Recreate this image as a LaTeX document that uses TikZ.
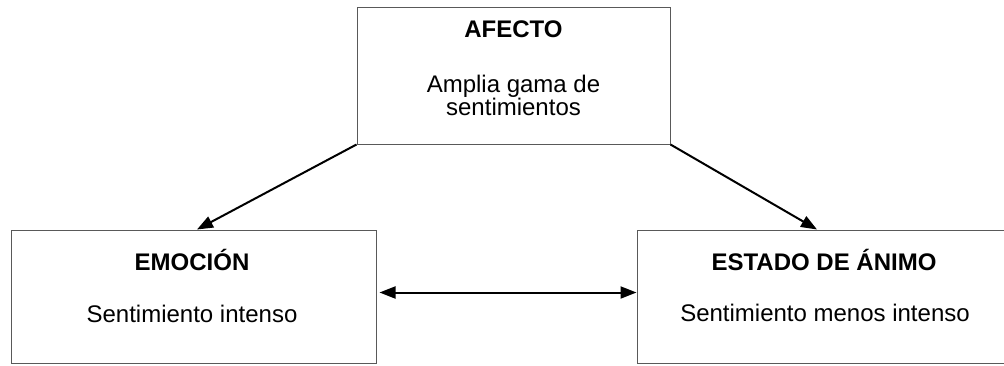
\documentclass[tikz,border=0pt]{standalone}
\usepackage{fontspec}
\setmainfont{Liberation Sans}
\usetikzlibrary{arrows.meta,calc}
\tikzset{
  box/.style={draw=black!65, line width=1pt, rectangle, inner sep=0pt, fill=none},
  title/.style={font=\fontsize{24}{24}\selectfont\bfseries, anchor=base, inner sep=0pt},
  body/.style={font=\fontsize{24}{24}\selectfont, anchor=base, inner sep=0pt, align=center},
  arr/.style={line width=2pt, -{Triangle[length=16pt,width=12pt]}},
  dblarr/.style={line width=2pt, {Triangle[length=16pt,width=12pt]}-{Triangle[length=16pt,width=12pt]}}
}
\begin{document}
\begin{tikzpicture}[x=1pt,y=-1pt]
\useasboundingbox (0,0) rectangle (1004,365);
\fill[white] (0,0) rectangle (1004,365);
% boxes
\node[box, minimum width=313pt, minimum height=137pt] (afecto) at (513.5,75.5) {};
\node[box, minimum width=365pt, minimum height=133pt] (emocion) at (193.5,296.5) {};
\node[box, minimum width=374pt, minimum height=133pt] (animo) at (824,296.5) {};
% texts
\node[title] (t1) at (513.5,37) {AFECTO};
\node[body] (b1a) at (513.5,92) {Amplia gama de};
\node[body] (b1b) at (513.5,115) {sentimientos};
\node[title] (t2) at (192,270) {EMOCIÓN};
\node[body] (b2) at (192,322) {Sentimiento intenso};
\node[title] (t3) at (824,270) {ESTADO DE ÁNIMO};
\node[body] (b3) at (825,321) {Sentimiento menos intenso};
% connectors
\coordinate (e1) at ($(emocion.north)+(3.5,0)$);
\coordinate (e2) at ($(animo.north)+(-7,0)$);
\draw[arr] (afecto.south west) -- (e1);
\draw[arr] (afecto.south east) -- (e2);
\coordinate (h1) at ($(emocion.east)+(3,-4)$);
\coordinate (h2) at ($(animo.west)+(0,-4)$);
\draw[dblarr] (h1) -- (h2);
\end{tikzpicture}
\end{document}
